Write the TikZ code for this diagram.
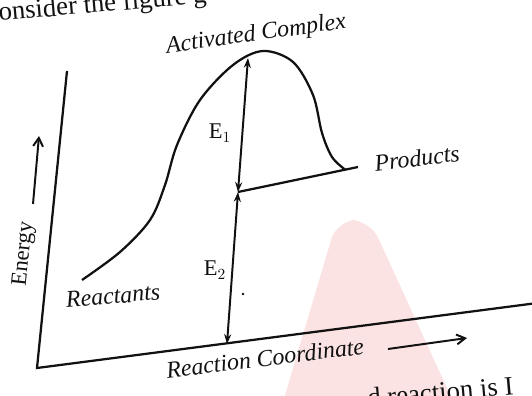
\documentclass[tikz,border=0pt]{standalone}
\usepackage{fontspec}
\setmainfont{Liberation Serif}
\usetikzlibrary{arrows.meta}
\definecolor{ink}{HTML}{111111}
\definecolor{wmark}{HTML}{FCE3E3}

\begin{document}
\begin{tikzpicture}[
    x=0.25mm, y=-0.25mm,
    >={Stealth[length=7pt, width=5pt]},
    axis/.style={draw=ink, line width=1.6pt},
    conn/.style={<->, draw=ink, line width=1.4pt},
    barb/.style={-{Straight Barb[length=6pt, width=7pt]}, draw=ink, line width=1.4pt},
    lbl/.style={font=\fontsize{17}{20}\selectfont\itshape, text=ink, inner sep=1pt},
    elbl/.style={font=\fontsize{16}{18}\selectfont, text=ink, inner sep=1pt},
    pagetxt/.style={font=\fontsize{19}{22}\selectfont, text=ink, anchor=base west, inner sep=0pt}
]
\useasboundingbox (0,0) rectangle (532,396);
\clip (0,0) rectangle (532,396);

% =========================================================================
% FUNDO: marca d'agua e texto da pagina
% =========================================================================
\fill[wmark, rounded corners=14pt] (280,412) -- (337,220) -- (370,220) -- (458,412) -- cycle;

\node[pagetxt, rotate=5] (pagetop) at (-1,21) {onsider the figure g};
\node[pagetxt, rotate=5] (pagebot) at (368,407) {d reaction is I};

% =========================================================================
% EIXOS
% =========================================================================
\coordinate (ytop)   at (67,71);
\coordinate (origin) at (37,368);
\coordinate (xend)   at (545,302);

\draw[axis] (ytop) -- (origin) -- (xend);

\node[elbl, rotate=84] (energy) at (24,254) {Energy};
\coordinate (enbot) at (33,204);
\coordinate (entop) at (39,136);
\draw[barb] (enbot) -- (entop);

\node[lbl, rotate=7] (rcoord) at (265,358) {Reaction Coordinate};
\coordinate (rcstart) at (388,349);
\coordinate (rcend)   at (467,338);
\draw[barb] (rcstart) -- (rcend);

% =========================================================================
% CURVA DE ENERGIA
% =========================================================================
\draw[axis] plot[smooth, tension=0.55] coordinates {
    (82,280) (120,252) (150,220) (165,185) (177,145) (200,100)
    (233,65) (263,51) (293,62) (313,95) (322,133) (332,157) (345,169.5)};

\coordinate (peak)    at (248,58);
\coordinate (mid)     at (238,192);
\coordinate (base)    at (227,344);
\coordinate (prodend) at (358,167);

\draw[axis] (mid) -- (prodend);

% E1 e E2
\draw[conn] (mid) -- (peak);
\draw[conn] (mid) -- (base);

\node[elbl] (e1) at (220,133) {E$_1$};
\node[elbl] (e2) at (215,270) {E$_2$};
\fill[ink] (243,294) circle (1.3);

% =========================================================================
% ROTULOS
% =========================================================================
\node[lbl, rotate=8] (actc)  at (256,35)  {Activated Complex};
\node[lbl, rotate=7] (prod)  at (417,158) {Products};
\node[lbl, rotate=5] (react) at (113,296) {Reactants};

\end{tikzpicture}
\end{document}
